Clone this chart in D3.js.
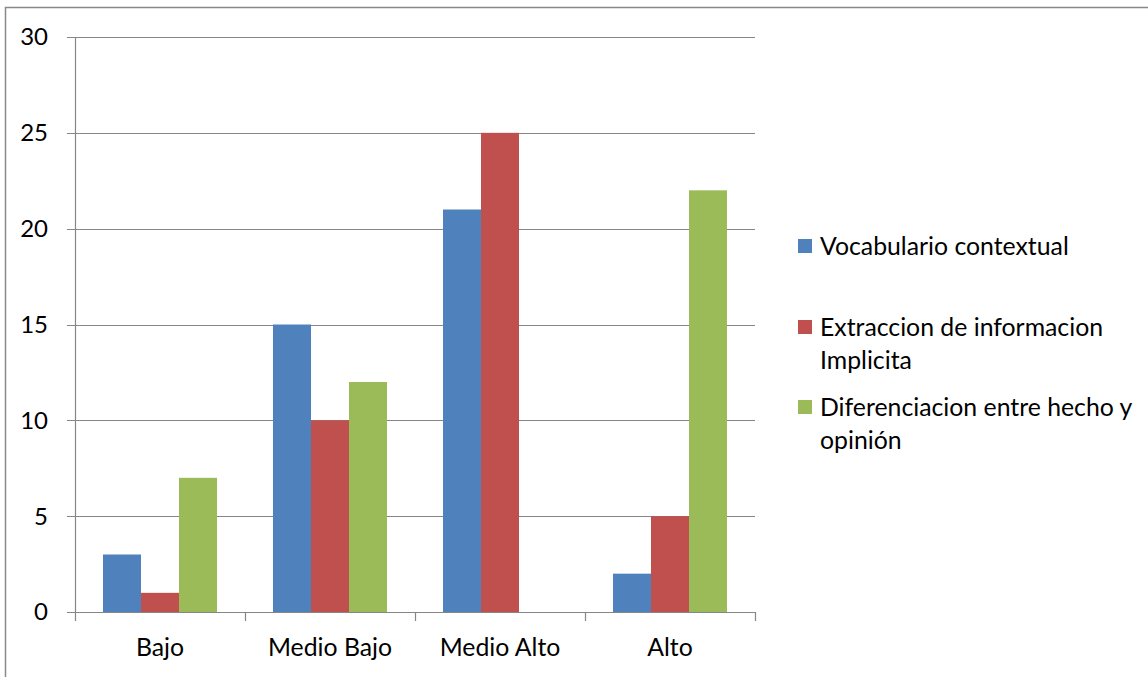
<!DOCTYPE html>
<html><head><meta charset="utf-8">
<script src="https://cdn.jsdelivr.net/npm/d3@7"></script>
<style>body{margin:0;background:#fff}svg{display:block}</style>
</head><body>
<script>
const categories = ["Bajo", "Medio Bajo", "Medio Alto", "Alto"];
const seriesNames = ["Vocabulario contextual", "Extraccion de informacion Implicita", "Diferenciacion entre hecho y opinión"];
const vocabulario = [3, 15, 21, 2];
const extraccion = [1, 10, 25, 5];
const diferenciacion = [7, 12, 0, 22];
const yTicks = [0, 5, 10, 15, 20, 25, 30];
const colors = ["#4F81BD", "#C0504D", "#9BBB59"];
const legendLines = [["Vocabulario contextual"], ["Extraccion de informacion", "Implicita"], ["Diferenciacion entre hecho y", "opinión"]];

(function () {
const series = [vocabulario, extraccion, diferenciacion];
const W = 1148, H = 677;
const font = "Lato, 'Open Sans', sans-serif";
const fs = 24.8;
const svg = d3.select("body").append("svg").attr("width", W).attr("height", H);

svg.append("rect").attr("x", 5.5).attr("y", 7.5).attr("width", W + 10).attr("height", H + 10)
  .attr("fill", "none").attr("stroke", "#898989").attr("stroke-width", 1.5);

const pL = 75, pR = 755, pT = 37, pB = 612;
const x = d3.scaleBand().domain(categories).range([pL, pR]).paddingInner(0).paddingOuter(0);
const x1 = d3.scaleBand().domain([0,1,2]).range([28, x.bandwidth() - 28]);
const y = d3.scaleLinear().domain([0, 30]).range([pB, pT]);

// gridlines
svg.append("g").selectAll("line").data(yTicks).join("line")
  .attr("x1", pL - 8).attr("x2", pR).attr("y1", d => Math.round(y(d)) + 0.5).attr("y2", d => Math.round(y(d)) + 0.5)
  .attr("stroke", "#868686").attr("stroke-width", 1.2);

// bars
categories.forEach((c, i) => {
  series.forEach((s, j) => {
    svg.append("rect").attr("x", x(c) + x1(j)).attr("width", x1.bandwidth())
      .attr("y", y(s[i])).attr("height", y(0) - y(s[i])).attr("fill", colors[j]);
  });
});

// y axis line
svg.append("line").attr("x1", pL + 0.5).attr("x2", pL + 0.5).attr("y1", pT).attr("y2", pB)
  .attr("stroke", "#868686").attr("stroke-width", 1.2);
// x axis ticks
const xt = categories.map(c => x(c)).concat([pR]);
svg.append("g").selectAll("line").data(xt).join("line")
  .attr("x1", d => d + 0.5).attr("x2", d => d + 0.5).attr("y1", pB).attr("y2", pB + 9)
  .attr("stroke", "#868686").attr("stroke-width", 1.2);

// y labels
svg.append("g").selectAll("text").data(yTicks).join("text")
  .attr("x", 48).attr("y", d => y(d)).attr("dy", "0.35em").attr("text-anchor", "end")
  .attr("font-family", font).attr("font-size", 24).attr("fill", "#000").text(d => d);

// x labels
svg.append("g").selectAll("text").data(categories).join("text")
  .attr("x", d => x(d) + x.bandwidth() / 2).attr("y", 647).attr("dy", "0.35em").attr("text-anchor", "middle")
  .attr("font-family", font).attr("font-size", fs).attr("fill", "#000").text(d => d);

// legend
const legendY = [246, 327, 407];
legendLines.forEach((lines, j) => {
  svg.append("rect").attr("x", 798).attr("y", legendY[j] - 7).attr("width", 14).attr("height", 14).attr("fill", colors[j]);
  lines.forEach((t, k) => {
    svg.append("text").attr("x", 820).attr("y", legendY[j] + k * 33).attr("dy", "0.35em")
      .attr("font-family", font).attr("font-size", fs).attr("fill", "#000").text(t);
  });
});
})();
</script>
</body></html>
